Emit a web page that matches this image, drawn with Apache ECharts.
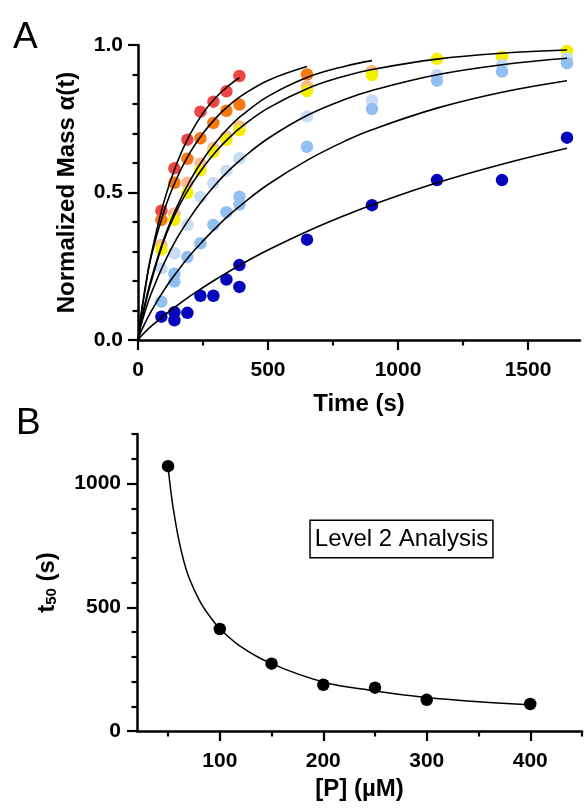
<!DOCTYPE html>
<html>
<head>
<meta charset="utf-8">
<script src="https://cdn.jsdelivr.net/npm/echarts@6/dist/echarts.min.js"></script>
<style>
  html, body { margin: 0; padding: 0; background: #ffffff; }
  #chart { width: 585px; height: 809px; }
</style>
</head>
<body>
<div id="chart"></div>
<script>
const FONT = '"Liberation Sans", Arial, Helvetica, sans-serif';

// ---- Panel A: normalized mass vs time, one series per peptide concentration ----
const obsTimes = [90, 140, 190, 240, 290, 340, 390, 650, 900, 1150, 1400, 1650];
const mass400 = [0.438, 0.582, 0.679, 0.774, 0.808, 0.843, 0.895];
const mass300 = [0.407, 0.533, 0.614, 0.684, 0.736, 0.777, 0.798, 0.900];
const mass250 = [0.322, 0.429, 0.533, 0.598, 0.650, 0.689, 0.724, 0.860, 0.912];
const mass200 = [0.307, 0.407, 0.499, 0.575, 0.638, 0.678, 0.711, 0.844, 0.898, 0.953, 0.960, 0.980];
const mass150 = [0.243, 0.294, 0.390, 0.485, 0.531, 0.574, 0.616, 0.758, 0.812, 0.898, 0.932, 0.955];
const mass100 = [0.130, 0.225, 0.281, 0.328, 0.390, 0.433, 0.486, 0.655, 0.783, 0.879, 0.910, 0.938];
const mass50  = [0.079, 0.094, 0.092, 0.150, 0.150, 0.205, 0.254, 0.340, 0.457, 0.542, 0.542, 0.686];

// replicate measurements at two of the time points
const repTimes = [140, 390];
const mass100Rep = [0.198, 0.459];
const mass50Rep  = [0.067, 0.180];

// fitted kinetic curves
const fitTimes = [0, 10, 25, 50, 100, 150, 200, 250, 300, 350, 400, 500, 650, 800, 900, 1150, 1400, 1650];
const fitTimes400 = [0, 10, 25, 50, 100, 150, 200, 250, 300, 350, 390];
const fit400 = [0, 0.075, 0.164, 0.286, 0.470, 0.601, 0.697, 0.769, 0.823, 0.863, 0.889];
const fit300 = [0, 0.071, 0.158, 0.280, 0.437, 0.550, 0.635, 0.701, 0.753, 0.795, 0.829, 0.880, 0.927];
const fit250 = [0, 0.056, 0.116, 0.204, 0.344, 0.452, 0.540, 0.612, 0.671, 0.721, 0.762, 0.826, 0.890, 0.929, 0.947];
const fit200 = [0, 0.052, 0.110, 0.195, 0.338, 0.440, 0.519, 0.584, 0.639, 0.685, 0.724, 0.786, 0.852, 0.896, 0.917, 0.952, 0.972, 0.983];
const fit150 = [0, 0.044, 0.091, 0.156, 0.260, 0.345, 0.415, 0.476, 0.529, 0.575, 0.615, 0.683, 0.761, 0.817, 0.846, 0.899, 0.933, 0.955];
const fit100 = [0, 0.025, 0.054, 0.096, 0.169, 0.231, 0.287, 0.336, 0.381, 0.423, 0.460, 0.527, 0.609, 0.676, 0.713, 0.786, 0.840, 0.879];
const fit50  = [0, 0.011, 0.025, 0.046, 0.083, 0.117, 0.149, 0.178, 0.206, 0.232, 0.258, 0.305, 0.368, 0.424, 0.458, 0.533, 0.596, 0.650];

const timeTicks = [0, 500, 1000, 1500];
const timeMinorTicks = [250, 750, 1250];
const massTicks = [0, 0.5, 1];
const massMinorTicks = [0.1, 0.2, 0.3, 0.4, 0.6, 0.7, 0.8, 0.9];

// ---- Panel B: half-time vs peptide concentration ----
const conc = [50, 100, 150, 200, 250, 300, 400];
const t50 = [1070, 412, 272, 187, 175, 126, 109];
const curveConc = [50, 52.5, 55, 60, 65, 70, 80, 90, 100, 120, 150, 200, 250, 300, 350, 400];
const curveT50 = [1070, 975, 900, 780, 690, 622, 530, 465, 414, 342, 272, 198, 162, 135, 118, 106];

const concTicks = [100, 200, 300, 400];
const concMinorTicks = [50, 150, 250, 350, 450];
const t50Ticks = [0, 500, 1000];
const t50MinorTicks = [100, 200, 300, 400, 600, 700, 800, 900, 1100, 1200];

const COLORS = {
  c400: '#f04545',
  c300: '#f7780e',
  c250: '#f9ba8c',
  c200: '#f5f000',
  c150: '#c8dcf5',
  c100: '#92bff1',
  c50:  '#0505bc'
};

function pairs(xs, ys) {
  const out = [];
  for (let i = 0; i < ys.length; i++) {
    if (ys[i] !== null && ys[i] !== undefined) out.push([xs[i], ys[i]]);
  }
  return out;
}

const plain = v => String(v);
const tickLabel = { fontFamily: FONT, fontSize: 21, fontWeight: 'bold', color: '#000' };
const titleText = { fontFamily: FONT, fontSize: 24, fontWeight: 'bold', color: '#000' };
const lineBlack = { color: '#000', width: 2.5 };
const tickStyle = { color: '#000', width: 2.2 };

function majorAxis(extra) {
  return Object.assign({
    type: 'value',
    splitLine: { show: false },
    axisLine: { show: true, onZero: false, lineStyle: lineBlack }
  }, extra);
}
function minorAxis(extra) {
  return Object.assign({
    type: 'value',
    splitLine: { show: false },
    axisLine: { show: false, onZero: false },
    axisLabel: { show: false }
  }, extra);
}

const scatter = (name, data, color) => ({
  name, type: 'scatter', xAxisIndex: 0, yAxisIndex: 0, data,
  symbol: 'circle', symbolSize: 12.5, itemStyle: { color, opacity: 1 }, z: 2, silent: true
});
const fitLine = (times, vals) => ({
  type: 'line', xAxisIndex: 0, yAxisIndex: 0, data: pairs(times, vals),
  showSymbol: false, symbol: 'none', smooth: 0.4,
  lineStyle: { color: '#000', width: 1.6 }, z: 3, silent: true
});

const chart = echarts.init(document.getElementById('chart'), null, { renderer: 'canvas' });

chart.setOption({
  animation: false,
  backgroundColor: '#ffffff',
  grid: [
    { left: 138, top: 45, width: 442, height: 295, containLabel: false, outerBoundsMode: 'none' },
    { left: 137, top: 434, width: 445, height: 297, containLabel: false, outerBoundsMode: 'none' }
  ],
  xAxis: [
    majorAxis({
      gridIndex: 0, position: 'bottom', min: 0, max: 1700,
      axisTick: { show: true, length: 10, customValues: timeTicks, lineStyle: tickStyle },
      axisLabel: Object.assign({ customValues: timeTicks, margin: 20, formatter: plain }, tickLabel),
      name: 'Time (s)', nameLocation: 'middle', nameGap: 52, nameTextStyle: titleText
    }),
    minorAxis({
      gridIndex: 0, position: 'bottom', min: 0, max: 1700,
      axisTick: { show: true, length: 5.5, customValues: timeMinorTicks, lineStyle: tickStyle }
    }),
    majorAxis({
      gridIndex: 1, position: 'bottom', min: 20, max: 450,
      axisTick: { show: true, length: 10, customValues: concTicks, lineStyle: tickStyle },
      axisLabel: Object.assign({ customValues: concTicks, margin: 20, formatter: plain }, tickLabel),
      name: '[P] (\u00b5M)', nameLocation: 'middle', nameGap: 46, nameTextStyle: titleText
    }),
    minorAxis({
      gridIndex: 1, position: 'bottom', min: 20, max: 450,
      axisTick: { show: true, length: 5.5, customValues: concMinorTicks, lineStyle: tickStyle }
    })
  ],
  yAxis: [
    majorAxis({
      gridIndex: 0, position: 'left', min: 0, max: 1,
      axisTick: { show: true, length: 10, customValues: massTicks, lineStyle: tickStyle },
      axisLabel: Object.assign({ customValues: massTicks, margin: 15, formatter: v => v.toFixed(1) }, tickLabel),
      name: 'Normalized Mass \u03b1(t)', nameLocation: 'middle', nameGap: 59, nameRotate: 90,
      nameTextStyle: titleText
    }),
    minorAxis({
      gridIndex: 0, position: 'left', min: 0, max: 1,
      axisTick: { show: true, length: 5.5, customValues: massMinorTicks, lineStyle: tickStyle }
    }),
    majorAxis({
      gridIndex: 1, position: 'left', min: 0, max: 1200,
      axisTick: { show: true, length: 10, customValues: t50Ticks, lineStyle: tickStyle },
      axisLabel: Object.assign({ customValues: t50Ticks, margin: 16, formatter: plain }, tickLabel),
      name: '{t|t}{sub|50}{t| (s)}', nameLocation: 'middle', nameGap: 78, nameRotate: 90,
      nameTextStyle: Object.assign({}, titleText, {
        rich: {
          t: { fontFamily: FONT, fontSize: 24, fontWeight: 'bold', color: '#000', lineHeight: 24 },
          sub: { fontFamily: FONT, fontSize: 15, fontWeight: 'bold', color: '#000', lineHeight: 10, verticalAlign: 'bottom' }
        }
      })
    }),
    minorAxis({
      gridIndex: 1, position: 'left', min: 0, max: 1200,
      axisTick: { show: true, length: 5.5, customValues: t50MinorTicks, lineStyle: tickStyle }
    })
  ],
  series: [
    scatter('400', pairs(obsTimes, mass400), COLORS.c400),
    scatter('300', pairs(obsTimes, mass300), COLORS.c300),
    scatter('250', pairs(obsTimes, mass250), COLORS.c250),
    scatter('200', pairs(obsTimes, mass200), COLORS.c200),
    scatter('150', pairs(obsTimes, mass150), COLORS.c150),
    scatter('100', pairs(obsTimes, mass100), COLORS.c100),
    scatter('100 rep', pairs(repTimes, mass100Rep), COLORS.c100),
    scatter('50', pairs(obsTimes, mass50), COLORS.c50),
    scatter('50 rep', pairs(repTimes, mass50Rep), COLORS.c50),
    fitLine(fitTimes400, fit400),
    fitLine(fitTimes, fit300),
    fitLine(fitTimes, fit250),
    fitLine(fitTimes, fit200),
    fitLine(fitTimes, fit150),
    fitLine(fitTimes, fit100),
    fitLine(fitTimes, fit50),
    {
      type: 'line', xAxisIndex: 2, yAxisIndex: 2, data: pairs(curveConc, curveT50),
      showSymbol: false, symbol: 'none', smooth: 0.4,
      lineStyle: { color: '#000', width: 1.5 }, z: 2, silent: true
    },
    {
      type: 'scatter', xAxisIndex: 2, yAxisIndex: 2, data: pairs(conc, t50),
      symbol: 'circle', symbolSize: 12.5, itemStyle: { color: '#000', opacity: 1 }, z: 3, silent: true
    }
  ],
  graphic: [
    { type: 'text', left: 13, top: 19, silent: true,
      style: { text: 'A', font: '37px ' + FONT, fill: '#000' } },
    { type: 'text', left: 16, top: 405, silent: true,
      style: { text: 'B', font: '37px ' + FONT, fill: '#000' } },
    { type: 'text', x: 401.5, y: 539, silent: true,
      style: {
        text: 'Level 2 Analysis', font: '24px ' + FONT, fill: '#000',
        align: 'center', verticalAlign: 'middle',
        borderColor: '#000', borderWidth: 1.5, padding: [6, 4, 6, 4], backgroundColor: '#fff'
      } }
  ]
});
</script>
</body>
</html>
